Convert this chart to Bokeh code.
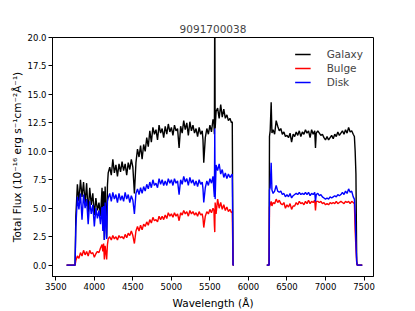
from bokeh.plotting import figure
from bokeh.models import FixedTicker, PrintfTickFormatter
from bokeh.embed import file_html
from bokeh.resources import INLINE

nan = float("nan")

title_text = "9091700038"
x_ticks = [3500, 4000, 4500, 5000, 5500, 6000, 6500, 7000, 7500]
y_ticks = [0.0, 2.5, 5.0, 7.5, 10.0, 12.5, 15.0, 17.5, 20.0]

wavelength = [
    3640, 3700, 3750, 3760, 3780, 3800, 3820, 3840, 3860, 3880,
    3900, 3920, 3940, 3960, 3980, 4000, 4020, 4040, 4060, 4080,
    4100, 4110, 4120, 4130, 4140, 4160, 4170, 4180, 4200, 4220,
    4240, 4260, 4280, 4300, 4320, 4340, 4360, 4380, 4400, 4420,
    4440, 4460, 4480, 4500, 4520, 4540, 4560, 4580, 4600, 4620,
    4640, 4660, 4680, 4700, 4720, 4740, 4760, 4780, 4800, 4820,
    4840, 4860, 4880, 4900, 4920, 4940, 4960, 4980, 5000, 5020,
    5040, 5060, 5080, 5100, 5120, 5140, 5160, 5180, 5200, 5220,
    5240, 5260, 5280, 5300, 5320, 5340, 5360, 5380, 5400, 5410,
    5420, 5440, 5460, 5480, 5500, 5520, 5540, 5552, 5558, 5563,
    5568, 5580, 5600, 5620, 5640, 5660, 5680, 5700, 5720, 5740,
    5760, 5780, 5790, 5800, 5810,
    nan,
    6238, 6268, 6273, 6282, 6295, 6305, 6320, 6340, 6360, 6380,
    6400, 6420, 6440, 6460, 6480, 6500, 6520, 6540, 6560, 6580,
    6600, 6620, 6640, 6660, 6680, 6700, 6720, 6740, 6760, 6780,
    6800, 6820, 6840, 6860, 6870, 6880, 6900, 6920, 6940, 6960,
    6980, 7000, 7020, 7040, 7060, 7080, 7100, 7120, 7140, 7160,
    7180, 7200, 7220, 7240, 7260, 7280, 7300, 7320, 7340, 7360,
    7375, 7385, 7395, 7405, 7412, 7477,
]

galaxy_flux = [
    0, 0, 0, 4.3, 7.1, 5.6, 7.5, 6.0, 7.3, 5.4,
    7.2, 4.6, 6.8, 5.3, 6.3, 4.4, 5.9, 4.8, 5.5, 4.3,
    6.8, 3.5, 6.5, 2.2, 6.9, 2.4, 7.0, 8.1, 8.6, 7.9,
    9.3, 8.1, 8.8, 7.8, 8.9, 8.2, 9.1, 8.3, 8.9, 7.9,
    9.0, 8.4, 9.3, 8.6, 6.3, 9.0, 10.2, 9.5, 10.5, 9.3,
    10.6, 10.0, 11.2, 10.4, 11.8, 10.8, 12.1, 11.5, 11.9, 11.0,
    12.3, 11.6, 12.0, 11.2, 12.2, 11.5, 12.4, 11.7, 12.1, 11.4,
    12.3, 11.8, 12.0, 10.3, 12.2, 11.6, 12.7, 11.9, 12.5, 11.4,
    12.6, 11.8, 12.3, 11.6, 12.0, 11.3, 12.1, 11.5, 11.8, 11.0,
    9.0, 11.2, 12.0, 11.5, 12.3, 11.7, 12.8, 12.5, 11.5, 24.0,
    12.0, 13.5, 13.8, 12.9, 14.1, 13.0, 13.7, 12.9, 13.2, 12.7,
    12.9, 12.5, 12.6, 0, 0,
    nan,
    0, 0, 11.3, 11.8, 14.3, 11.6, 11.9, 11.5, 12.7, 12.2,
    11.8, 12.0, 11.5, 11.7, 11.3, 11.4, 11.2, 11.6, 10.8, 11.5,
    11.3, 11.7, 11.4, 11.8, 11.3, 11.7, 11.5, 11.9, 11.6, 11.8,
    11.2, 11.9, 11.5, 11.8, 10.3, 11.6, 11.8, 11.6, 11.4, 11.5,
    11.2, 11.0, 11.3, 11.0, 11.2, 11.4, 11.1, 11.5, 11.3, 11.7,
    11.4, 11.6, 11.8, 11.5, 11.9, 11.6, 12.1, 11.7, 11.8, 11.5,
    11.3, 10.0, 8.0, 0.3, 0, 0,
]

bulge_flux = [
    0, 0, 0, 0.4, 0.8, 0.6, 1.1, 0.8, 1.3, 0.9,
    1.2, 0.8, 1.3, 1.0, 1.1, 0.7, 1.0, 1.2, 1.1, 1.5,
    1.8, 1.2, 1.9, 0.5, 1.7, 0.5, 1.8, 2.3, 2.5, 2.2,
    2.6, 2.3, 2.5, 2.2, 2.6, 2.4, 2.5, 2.3, 2.7, 2.4,
    2.8, 2.6, 3.0, 2.6, 1.9, 3.0, 3.4, 3.0, 3.5, 3.1,
    3.6, 3.4, 3.8, 3.5, 4.0, 3.7, 4.2, 3.9, 4.0, 3.8,
    4.3, 4.0, 4.3, 4.0, 4.4, 4.1, 4.6, 4.3, 4.5, 4.2,
    4.6, 4.3, 4.5, 3.9, 4.6, 4.4, 4.8, 4.5, 4.7, 4.3,
    4.8, 4.5, 4.7, 4.4, 4.6, 4.3, 4.7, 4.4, 4.5, 4.1,
    3.3, 4.3, 4.7, 4.5, 4.9, 4.6, 5.0, 4.8, 3.5, 2.9,
    5.5, 4.5, 5.8, 5.0, 5.5, 4.9, 5.3, 4.8, 5.1, 4.7,
    4.9, 4.6, 4.7, 0, 0,
    nan,
    0, 0, 5.1, 5.3, 5.6, 5.2, 5.5, 5.4, 5.8, 5.5,
    5.7, 5.4, 5.3, 5.5, 5.0, 5.3, 5.1, 5.4, 4.9, 5.2,
    5.2, 5.5, 5.3, 5.6, 5.4, 5.5, 5.3, 5.6, 5.4, 5.7,
    5.4, 5.6, 5.5, 5.7, 4.8, 5.6, 5.6, 5.5, 5.6, 5.4,
    5.5, 5.3, 5.4, 5.3, 5.5, 5.4, 5.5, 5.4, 5.6, 5.4,
    5.5, 5.6, 5.5, 5.4, 5.6, 5.5, 5.6, 5.4, 5.6, 5.5,
    5.4, 3.0, 1.5, 0.2, 0, 0,
]

disk_flux = [
    0, 0, 0, 3.3, 6.0, 4.9, 6.3, 4.0, 6.2, 5.0,
    5.8, 3.6, 5.6, 4.5, 5.3, 3.4, 5.0, 4.1, 4.8, 3.6,
    5.1, 3.0, 5.2, 2.2, 5.5, 2.3, 5.6, 5.9, 6.3, 5.6,
    6.4, 5.8, 6.2, 5.5, 6.3, 5.7, 6.1, 5.6, 6.4, 5.8,
    6.2, 5.5, 6.1, 5.7, 4.5, 6.3, 6.7, 6.2, 6.8, 6.3,
    6.9, 6.5, 7.1, 6.7, 7.3, 6.8, 7.5, 7.0, 7.2, 6.8,
    7.6, 7.1, 7.5, 7.0, 7.4, 7.0, 7.6, 7.2, 7.5, 7.0,
    7.6, 7.2, 7.4, 6.2, 7.5, 7.1, 7.8, 7.3, 7.6, 7.0,
    7.7, 7.2, 7.5, 7.0, 7.4, 6.9, 7.5, 7.1, 7.3, 6.7,
    5.5, 6.8, 7.4, 7.0, 7.6, 7.2, 7.8, 6.5, 6.0, 12.0,
    5.8, 8.8, 8.3, 8.9, 8.0, 8.4, 7.7, 8.1, 7.6, 8.0,
    7.7, 7.9, 8.0, 0, 0,
    nan,
    0, 0, 6.6, 6.8, 9.0, 6.6, 6.3, 6.5, 7.0, 6.5,
    6.4, 6.5, 6.2, 6.3, 6.0, 6.2, 6.0, 6.3, 5.9, 6.1,
    6.2, 6.3, 6.2, 6.4, 6.2, 6.3, 6.2, 6.4, 6.2, 6.4,
    6.1, 6.3, 6.2, 6.4, 5.6, 6.2, 6.3, 6.1, 6.2, 6.0,
    5.9, 5.8, 5.9, 5.8, 6.0, 5.9, 6.0, 6.1, 6.0, 6.2,
    6.1, 6.2, 6.4, 6.2, 6.5, 6.3, 6.7, 6.4, 6.5, 6.0,
    5.8, 4.5, 2.0, 0.3, 0, 0,
]

FONT = "DejaVu Sans"

p = figure(
    width=407, height=311,
    x_range=(3457, 7623), y_range=(-1.0, 20.0),
    output_backend="svg", toolbar_location=None,
    min_border_left=52, min_border_right=34,
    min_border_top=37, min_border_bottom=35,
    title=title_text,
)

p.line(wavelength, galaxy_flux, line_color="#000000", line_width=1.4, legend_label="Galaxy")
p.line(wavelength, bulge_flux, line_color="#ff0000", line_width=1.4, legend_label="Bulge")
p.line(wavelength, disk_flux, line_color="#0000ff", line_width=1.4, legend_label="Disk")

p.title.align = "center"
p.title.text_font = FONT
p.title.text_font_size = "10.5px"
p.title.text_font_style = "normal"
p.title.standoff = 9

p.xgrid.grid_line_color = None
p.ygrid.grid_line_color = None
p.outline_line_color = "black"
p.outline_line_width = 1
p.outline_line_alpha = 1.0

p.xaxis.ticker = FixedTicker(ticks=x_ticks)
p.yaxis.ticker = FixedTicker(ticks=y_ticks)
p.yaxis.formatter = PrintfTickFormatter(format="%.1f")

p.xaxis.axis_label = "Wavelength (Å)"
p.yaxis.axis_label = "Total Flux (10⁻¹⁶ erg s⁻¹cm⁻²Å⁻¹)"

for ax in (p.xaxis, p.yaxis):
    ax.axis_line_color = "black"
    ax.major_tick_line_color = "black"
    ax.major_tick_out = 4
    ax.major_tick_in = 0
    ax.minor_tick_line_color = None
    ax.major_label_text_font = FONT
    ax.major_label_text_font_size = "8.5px"
    ax.major_label_text_color = "black"
    ax.axis_label_text_font = FONT
    ax.axis_label_text_font_size = "10.5px"
    ax.axis_label_text_font_style = "normal"
    ax.axis_label_text_color = "black"

p.xaxis.major_label_standoff = 2
p.yaxis.major_label_standoff = 2
p.xaxis.axis_label_standoff = 4
p.yaxis.axis_label_standoff = 2

lg = p.legend[0]
lg.location = "top_right"
lg.border_line_alpha = 0
lg.background_fill_alpha = 0
lg.label_text_font = FONT
lg.label_text_font_size = "10.5px"
lg.glyph_width = 16
lg.glyph_height = 14
lg.label_height = 14
lg.label_standoff = 16
lg.spacing = 0
lg.padding = 4
lg.margin = 6

open("out.html", "w").write(file_html(p, INLINE))
